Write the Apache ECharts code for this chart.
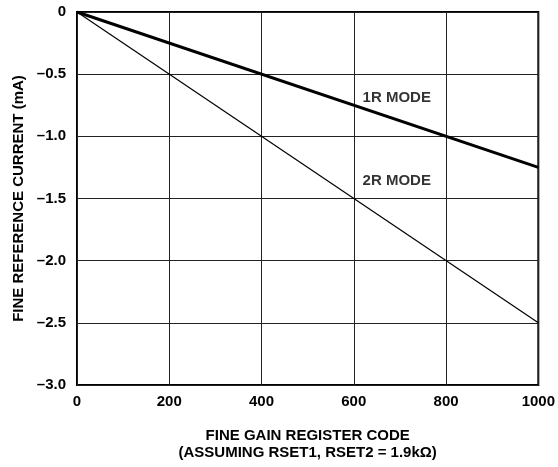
<!DOCTYPE html>
<html><head><meta charset="utf-8">
<script src="https://cdn.jsdelivr.net/npm/echarts@6/dist/echarts.min.js"></script>
<style>html,body{margin:0;padding:0;background:#fff}#c{width:558px;height:467px}</style>
</head><body><div id="c"></div>
<script>
const codes = [0, 1000];
const mode1R = [0, -1.25];
const mode2R = [0, -2.5];
const yTicks = [0, -0.5, -1.0, -1.5, -2.0, -2.5, -3.0];
const xTicks = [0, 200, 400, 600, 800, 1000];
const labels = [
  {text: '1R MODE', x: 619, y: -0.69},
  {text: '2R MODE', x: 619, y: -1.36}
];
const F = 'Liberation Sans, Arial, sans-serif';
const chart = echarts.init(document.getElementById('c'));
chart.setOption({
  animation: false,
  grid: {left: 77, right: 16, top: 12, bottom: 82, show: true, borderColor: '#000', borderWidth: 2},
  xAxis: {
    type: 'value', min: 0, max: 1000, interval: 200,
    axisLine: {show: false}, axisTick: {show: false},
    splitLine: {lineStyle: {color: '#222', width: 1}},
    axisLabel: {color: '#000', fontFamily: F, fontWeight: 'bold', fontSize: 15, margin: 9,
      formatter: v => String(v)},
    name: 'FINE GAIN REGISTER CODE\n(ASSUMING RSET1, RSET2 = 1.9kΩ)',
    nameLocation: 'middle', nameGap: 42,
    nameTextStyle: {color: '#000', fontFamily: F, fontWeight: 'bold', fontSize: 15, lineHeight: 17}
  },
  yAxis: {
    type: 'value', min: -3, max: 0, interval: 0.5,
    axisLine: {show: false}, axisTick: {show: false},
    splitLine: {lineStyle: {color: '#222', width: 1}},
    axisLabel: {color: '#000', fontFamily: F, fontWeight: 'bold', fontSize: 15, margin: 11,
      formatter: v => v === 0 ? '0' : '\u2013' + Math.abs(v).toFixed(1)},
    name: 'FINE REFERENCE CURRENT (mA)',
    nameLocation: 'middle', nameGap: 51,
    nameTextStyle: {color: '#000', fontFamily: F, fontWeight: 'bold', fontSize: 15}
  },
  series: [
    {type: 'line', data: codes.map((c, i) => [c, mode1R[i]]), symbol: 'none',
      lineStyle: {color: '#000', width: 3}},
    {type: 'line', data: codes.map((c, i) => [c, mode2R[i]]), symbol: 'none',
      lineStyle: {color: '#000', width: 1.2}},
    {type: 'scatter', symbolSize: 0, data: labels.map(l => [l.x, l.y]),
      label: {show: true, position: 'right', distance: 0, formatter: p => labels[p.dataIndex].text,
        color: '#000', fontFamily: F, fontWeight: 'bold', fontSize: 15}}
  ]
});
</script></body></html>
